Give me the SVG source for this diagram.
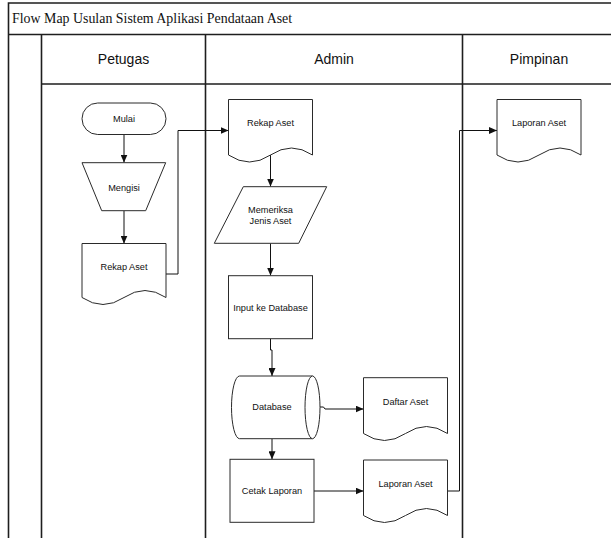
<svg xmlns="http://www.w3.org/2000/svg" width="611" height="538" viewBox="0 0 611 538">
<style>
.frame{stroke:#1e1e1e;stroke-width:1.6;fill:none}
.shape{fill:#fff;stroke:#2a2a2a;stroke-width:1}
.conn{fill:none;stroke:#111;stroke-width:1}
.lbl{font-family:"Liberation Sans",Arial,sans-serif;font-size:9.2px;fill:#111;text-anchor:middle}
.hdr{font-family:"Liberation Sans",Arial,sans-serif;font-size:14px;fill:#111;text-anchor:middle}
.title{font-family:"Liberation Serif","Times New Roman",serif;font-size:13.9px;fill:#111}
</style>
<defs>
<marker id="arr" markerUnits="userSpaceOnUse" markerWidth="8" markerHeight="7" refX="8" refY="3.5" orient="auto">
<path d="M0,0 L8,3.5 L0,7 z" fill="#111"/>
</marker>
</defs>
<rect width="611" height="538" fill="#fff"/>
<g id="frame">
<path class="frame" d="M8.5 538 V3 H611 M8.5 34.5 H611 M41.5 84 H611 M41.5 34.5 V538 M205.5 34.5 V538 M462.5 34.5 V538"/>
<text class="title" x="12" y="23">Flow Map Usulan Sistem Aplikasi Pendataan Aset</text>
<text class="hdr" x="123.5" y="64">Petugas</text>
<text class="hdr" x="334" y="64">Admin</text>
<text class="hdr" x="539" y="64">Pimpinan</text>
</g>
<g id="connectors">
<path class="conn" marker-end="url(#arr)" d="M124 134.5 V162.5"/>
<path class="conn" marker-end="url(#arr)" d="M124 211 V243.5"/>
<path class="conn" marker-end="url(#arr)" d="M166 274 H178 V130.5 H228.5"/>
<path class="conn" marker-end="url(#arr)" d="M270.5 155 V186.5"/>
<path class="conn" marker-end="url(#arr)" d="M270.5 243.5 V275.5"/>
<path class="conn" marker-end="url(#arr)" d="M270.5 338.5 V350 H272 V376"/>
<path class="conn" marker-end="url(#arr)" d="M320 407 H323.5 L325 409 H363.5"/>
<path class="conn" marker-end="url(#arr)" d="M272 438.7 V459.3"/>
<path class="conn" marker-end="url(#arr)" d="M314 491 H363.5"/>
<path class="conn" marker-end="url(#arr)" d="M447.5 491 H459.5 V130.5 H497"/>
</g>
<g id="mulai">
<rect class="shape" x="82" y="103" width="84" height="31.5" rx="15.7"/>
<text class="lbl" x="124" y="121.5">Mulai</text>
</g>
<g id="mengisi">
<path class="shape" d="M82 162.7 H165.7 L145.7 210.7 H101.7 Z"/>
<text class="lbl" x="124" y="191">Mengisi</text>
</g>
<g id="rekap-petugas">
<path class="shape" d="M82 243.5 H166 V297.5 Q145 283.5 124 297.5 T82 297.5 Z"/>
<text class="lbl" x="124" y="270">Rekap Aset</text>
</g>
<g id="rekap-admin">
<path class="shape" d="M228.5 99.5 H312.5 V155 Q291.5 141 270.5 155 T228.5 155 Z"/>
<text class="lbl" x="270.5" y="126">Rekap Aset</text>
</g>
<g id="memeriksa">
<path class="shape" d="M243.3 186.7 H326.7 L298.7 243.3 H214.3 Z"/>
<text class="lbl" x="270.5" y="212.5">Memeriksa</text>
<text class="lbl" x="270.5" y="224">Jenis Aset</text>
</g>
<g id="input-db">
<rect class="shape" x="228.5" y="275.7" width="84" height="63"/>
<text class="lbl" x="270.5" y="311">Input ke Database</text>
</g>
<g id="database">
<path class="shape" d="M239.5 376 H312.5 A7.5 31.35 0 0 1 312.5 438.7 H239.5 A8 31.35 0 0 1 239.5 376 Z"/>
<path class="shape" fill="none" d="M312.5 376 A7.5 31.35 0 0 0 312.5 438.7"/>
<text class="lbl" x="272" y="410">Database</text>
</g>
<g id="daftar-aset">
<path class="shape" d="M363.5 377.7 H447.5 V433.5 Q426.5 419.5 405.5 433.5 T363.5 433.5 Z"/>
<text class="lbl" x="405.5" y="405">Daftar Aset</text>
</g>
<g id="cetak-laporan">
<rect class="shape" x="230" y="459.3" width="84" height="63"/>
<text class="lbl" x="272" y="494">Cetak Laporan</text>
</g>
<g id="laporan-admin">
<path class="shape" d="M363.5 460 H447.5 V515.5 Q426.5 501.5 405.5 515.5 T363.5 515.5 Z"/>
<text class="lbl" x="405.5" y="487">Laporan Aset</text>
</g>
<g id="laporan-pimpinan">
<path class="shape" d="M497 99.5 H581 V155 Q560 141 539 155 T497 155 Z"/>
<text class="lbl" x="539" y="126">Laporan Aset</text>
</g>
</svg>
